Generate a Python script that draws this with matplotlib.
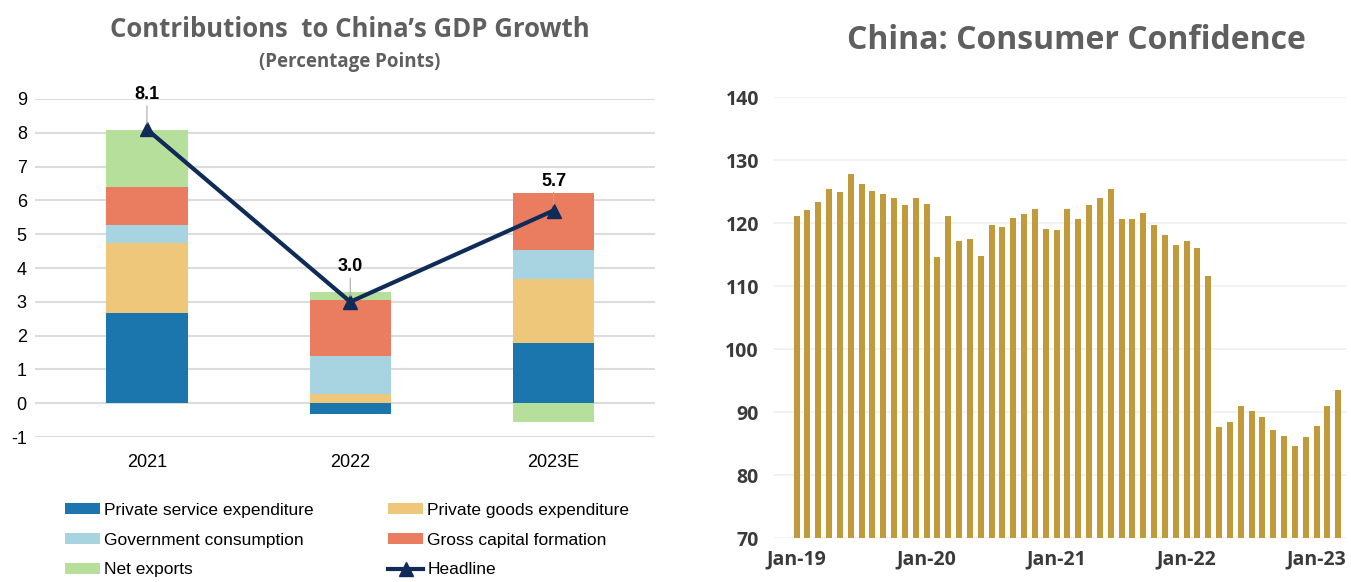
import matplotlib
matplotlib.use("Agg")
import matplotlib.pyplot as plt
import numpy as np

plt.rcParams["axes.unicode_minus"] = False

# ---- data: contributions to GDP growth (pp) ----
years = ["2021", "2022", "2023E"]
private_service = [2.67, -0.31, 1.79]
private_goods = [2.08, 0.28, 1.88]
gov_consumption = [0.52, 1.13, 0.86]
capital_formation = [1.12, 1.64, 1.68]
net_exports = [1.68, 0.24, -0.56]
headline = [8.1, 3.0, 5.7]

# ---- data: consumer confidence, Jan-19 .. Mar-23 ----
confidence = [121.1, 122.1, 123.4, 125.5, 124.9, 127.8, 126.3, 125.1, 124.6, 124.0,
              122.9, 124.0, 123.1, 114.7, 121.1, 117.2, 117.5, 114.8, 119.7, 119.4,
              120.8, 121.4, 122.3, 119.1, 118.9, 122.3, 120.7, 122.9, 124.0, 125.5,
              120.7, 120.7, 121.7, 119.7, 118.1, 116.6, 117.2, 116.0, 111.6, 87.7,
              88.5, 91.0, 90.2, 89.2, 87.2, 86.2, 84.6, 86.1, 87.8, 91.0, 93.5]
month_ticks = [0, 12, 24, 36, 48]
month_labels = ["Jan-19", "Jan-20", "Jan-21", "Jan-22", "Jan-23"]

narrow = ["Liberation Sans Narrow", "Liberation Sans", "DejaVu Sans"]
title_font = ["Open Sans", "DejaVu Sans"]
grey = "#5f5f5f"

fig = plt.figure(figsize=(13.51, 5.82), dpi=100)

# ================= left chart =================
ax = fig.add_axes([0.026, 0.249, 0.459, 0.581])
x = np.arange(len(years))
w = 0.40

series = [
    ("Private service expenditure", private_service, "#1b76ad"),
    ("Private goods expenditure", private_goods, "#efc77b"),
    ("Government consumption", gov_consumption, "#a8d4e2"),
    ("Gross capital formation", capital_formation, "#ea7d5f"),
    ("Net exports", net_exports, "#b6df9c"),
]
pos_base = np.zeros(len(years))
neg_base = np.zeros(len(years))
handles = {}
for name, vals, col in series:
    vals = np.array(vals)
    bottom = np.where(vals >= 0, pos_base, neg_base)
    b = ax.bar(x, vals, w, bottom=bottom, color=col, zorder=2, label=name)
    handles[name] = b
    pos_base = pos_base + np.where(vals >= 0, vals, 0)
    neg_base = neg_base + np.where(vals < 0, vals, 0)

ln, = ax.plot(x, headline, color="#0f2b57", lw=3, marker="^", ms=10, zorder=4,
              label="Headline")
handles["Headline"] = ln
for xi, v, off in zip(x, headline, [19, 19, 15]):
    ax.annotate(f"{v:.1f}", xy=(xi, v), xytext=(0, off), textcoords="offset points",
                ha="center", va="bottom", fontsize=13, fontweight="bold",
                family=narrow, zorder=5,
                arrowprops=dict(arrowstyle="-", color="#aaaaaa", lw=0.8,
                                shrinkA=0, shrinkB=4))

ax.set_ylim(-1, 9)
ax.set_xlim(-0.55, 2.5)
ax.set_yticks(range(-1, 10))
ax.set_xticks(x)
ax.set_xticklabels(years)
ax.grid(axis="y", color="#dcdcdc", lw=1.5, zorder=0)
ax.tick_params(length=0, labelsize=13)
ax.tick_params(axis="y", pad=6)
ax.tick_params(axis="x", pad=12)
for lab in ax.get_xticklabels() + ax.get_yticklabels():
    lab.set_family(narrow)
for s in ax.spines.values():
    s.set_visible(False)

order = ["Private service expenditure", "Government consumption", "Net exports",
         "Private goods expenditure", "Gross capital formation", "Headline"]
leg = fig.legend([handles[k] for k in order], order, ncol=2,
                 loc="upper left", bbox_to_anchor=(0.043, 0.148),
                 frameon=False, prop={"family": narrow, "size": 12.5},
                 handlelength=2.0, handleheight=0.6, handletextpad=0.25,
                 columnspacing=4.3, labelspacing=0.85, borderaxespad=0)

fig.text(0.259, 0.950, "Contributions  to China\u2019s GDP Growth", ha="center",
         va="center", fontsize=18.5, fontweight="bold", color=grey, family=title_font)
fig.text(0.259, 0.893, "(Percentage Points)", ha="center", va="center",
         fontsize=13.5, fontweight="bold", color=grey, family=title_font)

# ================= right chart =================
ax2 = fig.add_axes([0.572, 0.0756, 0.425, 0.757])
m = np.arange(len(confidence))
ax2.bar(m, np.array(confidence) - 70, 0.55, bottom=70, color="#c09a3b", zorder=2)
ax2.set_ylim(70, 140)
ax2.set_xlim(-2.2, 50.8)
ax2.set_yticks(range(70, 141, 10))
ax2.set_xticks(month_ticks)
ax2.set_xticklabels(month_labels)
ax2.grid(axis="y", color="#f0f0f0", lw=1.2, zorder=0)
ax2.tick_params(length=0, labelsize=14, colors="#3a3a3a")
ax2.tick_params(axis="y", pad=10)
ax2.tick_params(axis="x", pad=8)
for lab in ax2.get_xticklabels() + ax2.get_yticklabels():
    lab.set_family(title_font)
    lab.set_fontweight("bold")
for s in ax2.spines.values():
    s.set_visible(False)

fig.text(0.797, 0.930, "China: Consumer Confidence", ha="center", va="center",
         fontsize=23, fontweight="bold", color=grey, family=title_font)

fig.savefig("out.png", dpi=100)
